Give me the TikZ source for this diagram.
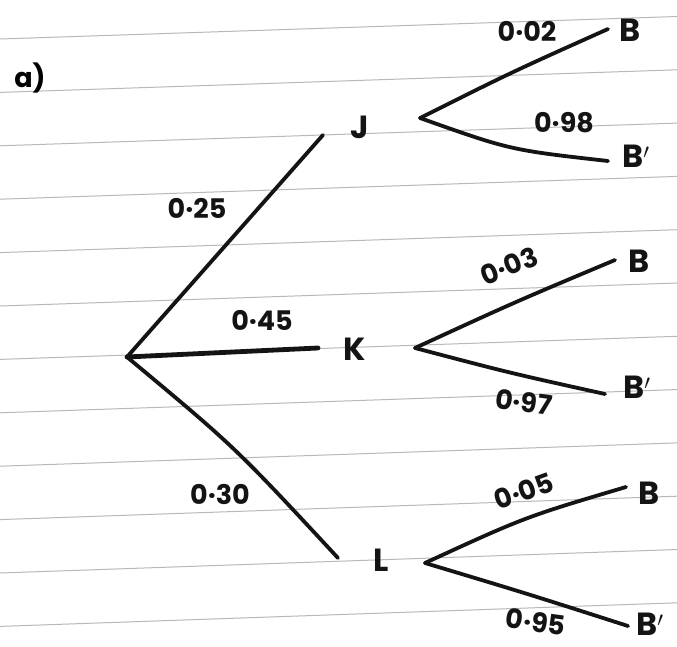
\documentclass[tikz,border=0pt]{standalone}
\usepackage{fontspec}
\setmainfont{Poppins}
\begin{document}
\begin{tikzpicture}[x=1pt,y=-1pt,
  rule/.style={draw=black!28,line width=1pt},
  branch/.style={draw=black!92,line width=3.8pt,line cap=round,line join=round},
  prob/.style={font=\fontsize{27}{27}\selectfont\bfseries,inner sep=0pt,text=black!92},
  evt/.style={font=\fontsize{32}{32}\selectfont\bfseries,inner sep=0pt,text=black!92}]
\useasboundingbox[fill=white] (0,0) rectangle (677,647);
% ruled paper
\foreach \i in {0,...,11}{
  \draw[rule] (0,{39+53.4*\i}) -- (677,{16.5+53.3*\i});
}
\node[font=\fontsize{27}{27}\selectfont\bfseries,inner sep=0pt] (lab) at (30,78) {a)};
% root and first stage
\coordinate (root) at (127,357);
\coordinate (jin) at (323,135);
\coordinate (kin) at (318,348);
\coordinate (lin) at (338,558);
\node[evt] (J) at (360,127) {J};
\node[evt] (K) at (355,349) {K};
\node[evt] (L) at (381,560) {L};
\draw[branch] (root) -- (jin);
\draw[branch,line width=4.8pt] (root) -- (kin);
\draw[branch] (root) .. controls (235,447) .. (lin);
\node[prob] (p25) at (197,208) {0·25};
\node[prob] (p45) at (262,320) {0·45};
\node[prob] (p30) at (220,494) {0·30};
% J branches
\coordinate (js) at (420,118);
\coordinate (jb) at (608,29);
\coordinate (jbp) at (608,161);
\node[evt] (JB) at (630,30) {B};
\node[evt] (JBp) at (636,156) {B$'$};
\draw[branch] (js) .. controls (512,72) .. (jb);
\draw[branch] (js) .. controls (510,150) .. (jbp);
\node[prob] (p02) at (527,31) {0·02};
\node[prob] (p98) at (564,123) {0·98};
% K branches
\coordinate (ks) at (415,348);
\coordinate (kb) at (615,260);
\coordinate (kbp) at (605,394);
\node[evt] (KB) at (639,261) {B};
\node[evt] (KBp) at (637,387) {B$'$};
\draw[branch] (ks) .. controls (515,302) .. (kb);
\draw[branch] (ks) .. controls (510,373) .. (kbp);
\node[prob,rotate=22] (p03) at (509,266) {0·03};
\node[prob,rotate=-8] (p97) at (524,402) {0·97};
% L branches
\coordinate (ls) at (425,563);
\coordinate (lb) at (626,487);
\coordinate (lbp) at (628,626);
\node[evt] (LB) at (649,493) {B};
\node[evt] (LBp) at (650,624) {B$'$};
\draw[branch] (ls) .. controls (525,517) .. (lb);
\draw[branch] (ls) .. controls (525,593) .. (lbp);
\node[prob,rotate=20] (p05) at (524,491) {0·05};
\node[prob,rotate=-8] (p95) at (536,622) {0·95};
\end{tikzpicture}
\end{document}
